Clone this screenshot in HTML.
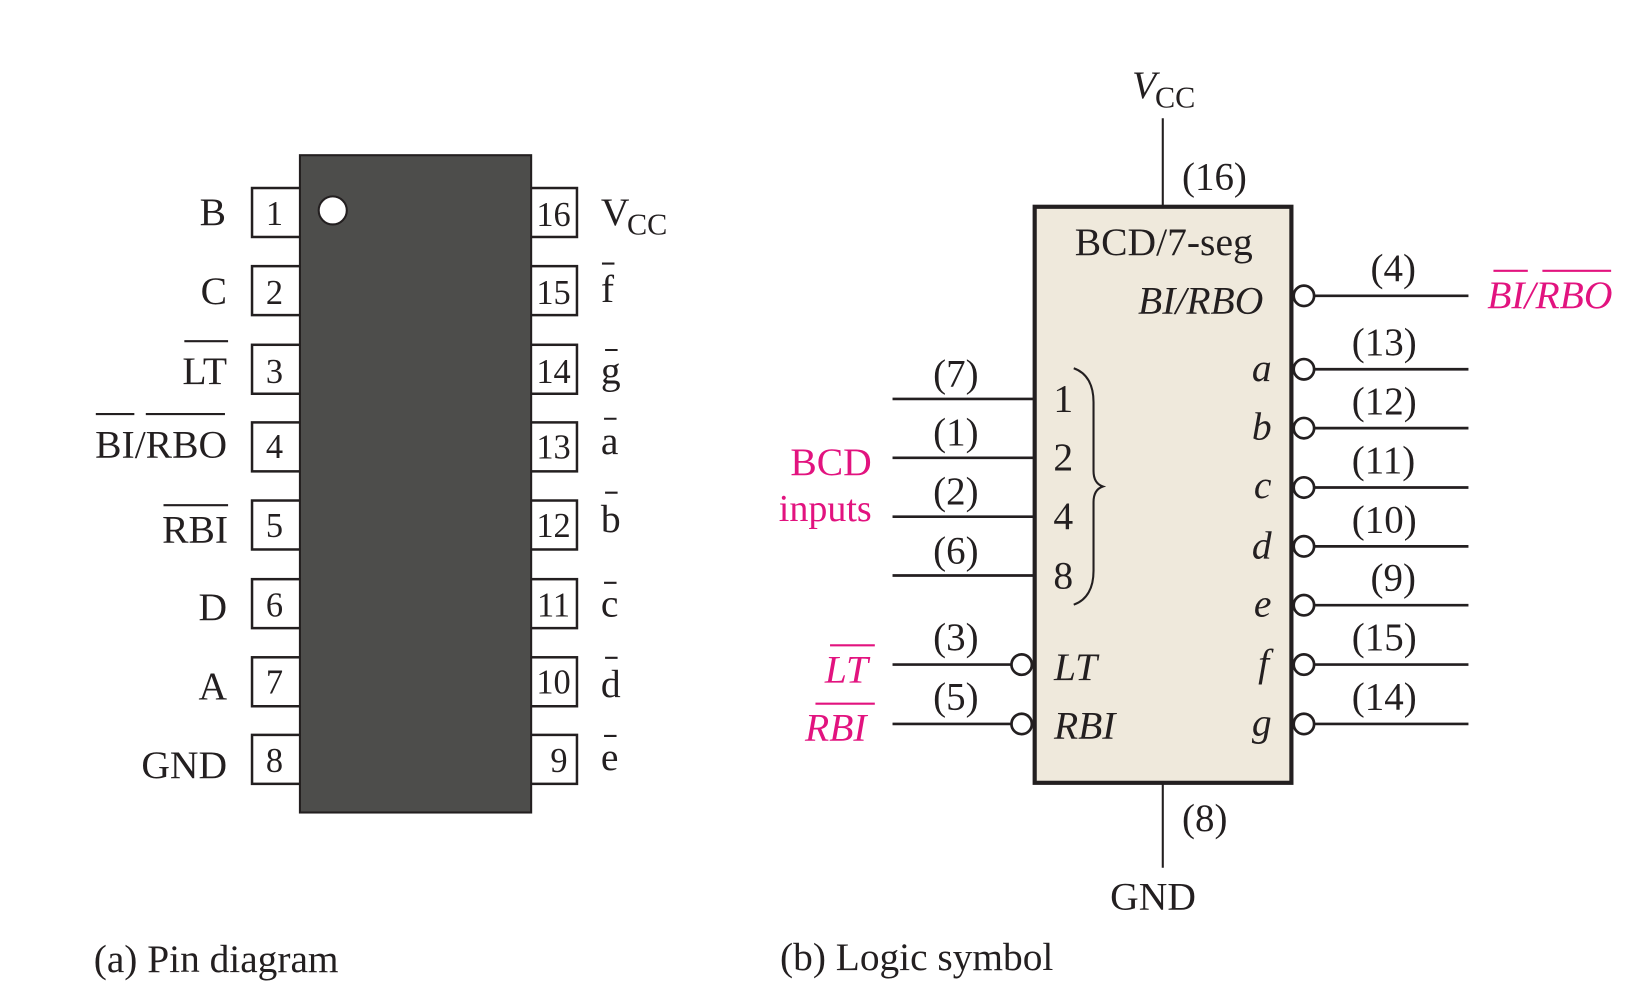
<!DOCTYPE html>
<html><head><meta charset="utf-8"><style>
html,body{margin:0;padding:0;background:#fff;width:1633px;height:1000px;overflow:hidden}
svg{display:block}
text{font-family:"Liberation Serif",serif;font-size:38px;fill:#231f20}
.n{font-size:33px}
.s{font-size:29px}
.t{font-size:37.4px}
.i{font-style:italic}
.p{fill:#e2137f}
.e{text-anchor:end}
.m{text-anchor:middle}
.l{stroke:#231f20;stroke-width:2;fill:none}
.w{stroke:#231f20;stroke-width:2.6;fill:none}
.o{stroke:#231f20;stroke-width:2;fill:none}
.q{stroke:#e2137f;stroke-width:2;fill:none}
</style></head><body>
<svg width="1633" height="1000" viewBox="0 0 1568 960" preserveAspectRatio="none" xmlns="http://www.w3.org/2000/svg">
<rect width="1568" height="960" fill="#fff"/>
<!-- pin boxes -->
<g style="stroke:#231f20;stroke-width:2.4;fill:#fff">
<rect x="242" y="180.5" width="60" height="47"/><rect x="242" y="255.5" width="60" height="47"/><rect x="242" y="331" width="60" height="47"/><rect x="242" y="405.5" width="60" height="47"/><rect x="242" y="480.5" width="60" height="47"/><rect x="242" y="556" width="60" height="47"/><rect x="242" y="631" width="60" height="47"/><rect x="242" y="705.5" width="60" height="47"/>
<rect x="495" y="180.5" width="59" height="47"/><rect x="495" y="255.5" width="59" height="47"/><rect x="495" y="331" width="59" height="47"/><rect x="495" y="405.5" width="59" height="47"/><rect x="495" y="480.5" width="59" height="47"/><rect x="495" y="556" width="59" height="47"/><rect x="495" y="631" width="59" height="47"/><rect x="495" y="705.5" width="59" height="47"/>
</g>
<rect x="288" y="149" width="222" height="631" fill="#4d4d4b" stroke="#231f20" stroke-width="2"/>
<ellipse cx="319.5" cy="202" rx="13.5" ry="13.5" fill="#fff" stroke="#231f20" stroke-width="2"/>
<!-- pin numbers -->
<text class="n m" x="263.5" y="216">1</text><text class="n m" x="263.5" y="292">2</text><text class="n m" x="263.5" y="367.5">3</text><text class="n m" x="263.5" y="439.5">4</text><text class="n m" x="263.5" y="515.5">5</text><text class="n m" x="263.5" y="592">6</text><text class="n m" x="263.5" y="666">7</text><text class="n m" x="263.5" y="741">8</text>
<text class="n m" x="531.5" y="217">16</text><text class="n m" x="531.5" y="292">15</text><text class="n m" x="531.5" y="367.5">14</text><text class="n m" x="531.5" y="440">13</text><text class="n m" x="531.5" y="515.5">12</text><text class="n m" x="531.5" y="592">11</text><text class="n m" x="531.5" y="666">10</text><text class="n e" x="545" y="741">9</text>
<!-- left labels -->
<text class="e" x="217" y="216">B</text>
<text class="e" x="218" y="292">C</text>
<text class="e" x="218" y="368.5">LT</text>
<text class="e" x="218" y="439">BI/RBO</text>
<text class="e" x="219" y="521">RBI</text>
<text class="e" x="218" y="595">D</text>
<text class="e" x="218" y="671">A</text>
<text class="e" x="218" y="747">GND</text>
<path class="o" d="M177 327.5H219M92 397.5H129M140 397.5H216M157 485H219"/>
<!-- right labels -->
<text x="577" y="216">V</text><text class="s" x="602" y="225">CC</text>
<text x="577" y="290">f</text><text x="577" y="368">g</text><text x="577" y="436">a</text><text x="577" y="510.5">b</text><text x="577" y="592">c</text><text x="577" y="669">d</text><text x="577" y="739">e</text>
<path class="o" d="M578 253H590M581 336H593M580 402H592M581 473H593M580 559.5H592M581 631.5H593M580 706.5H592"/>
<text x="90" y="933" style="font-size:37.8px">(a) Pin diagram</text>
<text x="749" y="931" style="font-size:37.8px">(b) Logic symbol</text>
<!-- logic symbol -->
<rect x="993.5" y="198.5" width="246.5" height="553" fill="#efe9dc" stroke="#231f20" stroke-width="4"/>
<path class="l" d="M1116.5 113.5V197M1116.5 753V833"/>
<path class="w" d="M857 383H992M857 439.5H992M857 496H992M857 552.5H992M857 638H971M857 695H971"/>
<path class="w" d="M1262 284H1410M1262 354.5H1410M1262 411H1410M1262 468H1410M1262 524.5H1410M1262 581H1410M1262 638H1410M1262 695H1410"/>
<g fill="#fff" stroke="#231f20" stroke-width="2.6">
<circle cx="981" cy="638" r="9.8"/><circle cx="981" cy="695" r="9.8"/>
<circle cx="1252" cy="284" r="9.8"/><circle cx="1252" cy="354.5" r="9.8"/><circle cx="1252" cy="411" r="9.8"/><circle cx="1252" cy="468" r="9.8"/><circle cx="1252" cy="524.5" r="9.8"/><circle cx="1252" cy="581" r="9.8"/><circle cx="1252" cy="638" r="9.8"/><circle cx="1252" cy="695" r="9.8"/>
</g>
<path class="l" d="M1031 353.5C1044 358 1050 370 1050 386V452C1050 460 1053 465 1059 467C1053 469 1050 474 1050 482V548C1050 564 1044 576 1031 580.5"/>
<text class="i" x="1087" y="94">V</text><text class="s" x="1109" y="103">CC</text>
<text class="t" x="1135" y="182">(16)</text>
<text x="1032" y="245">BCD/7-seg</text>
<text class="i e" x="1213" y="301">BI/RBO</text>
<text class="t" x="1316" y="270">(4)</text>
<text class="i p" x="1428" y="295.5">BI/RBO</text>
<path class="q" d="M1434 260H1467M1481 260H1547"/>
<text class="t" x="1298" y="341">(13)</text><text class="t" x="1298" y="397.5">(12)</text><text class="t" x="1298" y="454">(11)</text><text class="t" x="1298" y="511">(10)</text><text class="t" x="1316" y="567">(9)</text><text class="t" x="1298" y="624">(15)</text><text class="t" x="1298" y="681">(14)</text>
<text class="i" x="1202" y="366">a</text><text class="i" x="1202" y="422">b</text><text class="i" x="1204" y="478">c</text><text class="i" x="1202" y="536">d</text><text class="i" x="1204" y="592">e</text><text class="i" x="1208" y="649">f</text><text class="i" x="1202" y="706">g</text>
<text class="t" x="896" y="371">(7)</text><text class="t" x="896" y="427">(1)</text><text class="t" x="896" y="484">(2)</text><text class="t" x="896" y="541">(6)</text><text class="t" x="896" y="624">(3)</text><text class="t" x="896" y="681">(5)</text>
<text class="m" x="1021" y="395">1</text><text class="m" x="1021" y="451">2</text><text class="m" x="1021" y="508">4</text><text class="m" x="1021" y="565">8</text>
<text class="i" x="1012" y="653">LT</text><text class="i" x="1012" y="709">RBI</text>
<text class="p e" x="837" y="456">BCD</text><text class="p e" x="837" y="500" style="font-size:36.5px">inputs</text>
<text class="p i" x="792" y="655">LT</text><text class="p i" x="773" y="711">RBI</text>
<path class="q" d="M797 619.5H840M783 675.5H840"/>
<text class="t" x="1135" y="798">(8)</text>
<text x="1066" y="873">GND</text>
</svg>
</body></html>
